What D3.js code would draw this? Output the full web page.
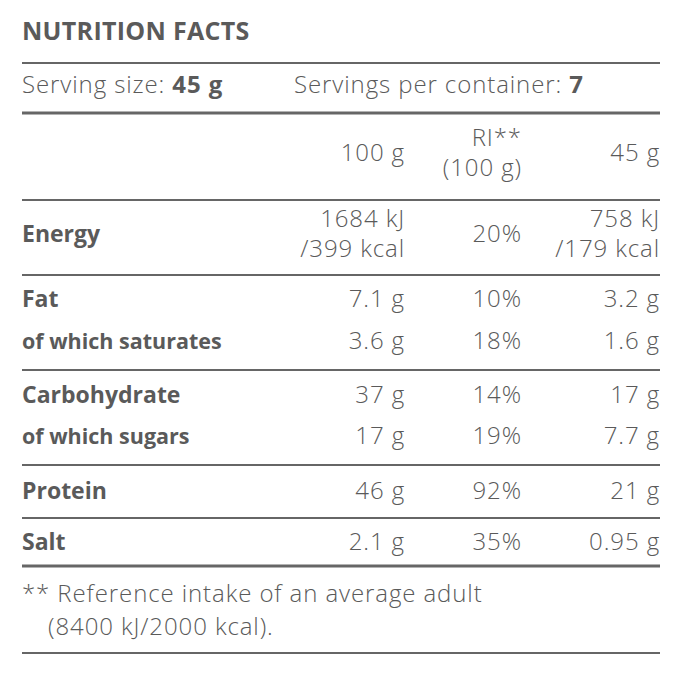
<!DOCTYPE html>
<html><head><meta charset="utf-8">
<script src="https://cdn.jsdelivr.net/npm/d3@7"></script>
<style>body{margin:0;background:#fff}</style>
</head><body><svg id="c" width="680" height="676"></svg>
<script>
// nutrition data
const labels = ["Energy", "Fat", "of which saturates", "Carbohydrate", "of which sugars", "Protein", "Salt"];
const per100 = [["1684 kJ", "/399 kcal"], ["7.1 g"], ["3.6 g"], ["37 g"], ["17 g"], ["46 g"], ["2.1 g"]];
const riPct = [["20%"], ["10%"], ["18%"], ["14%"], ["19%"], ["92%"], ["35%"]];
const perServing = [["758 kJ", "/179 kcal"], ["3.2 g"], ["1.6 g"], ["17 g"], ["7.7 g"], ["21 g"], ["0.95 g"]];
const headers = [["100 g"], ["RI**", "(100 g)"], ["45 g"]];
const rowY = [236, 301, 343, 397, 438, 493, 544];
const rules = [[63, 2], [113, 3], [200, 2], [275, 2], [370, 2], [465, 2], [518, 2], [566, 3], [653, 2]];

const svg = d3.select("#c");
const col = "#5a5a5a";
const font = "'Open Sans', Lato, sans-serif";
const colX = [405, 522, 660];

// horizontal rules
svg.selectAll("line").data(rules).join("line")
  .attr("x1", 22).attr("x2", 660)
  .attr("y1", d => d[0]).attr("y2", d => d[0])
  .attr("stroke", "#666").attr("stroke-width", d => d[1]);

function txt(x, y, s, o = {}) {
  return svg.append("text").attr("x", x).attr("y", y).text(s)
    .attr("fill", col).attr("font-family", font)
    .attr("font-size", o.size || 24).attr("font-weight", o.w || 300)
    .attr("letter-spacing", o.ls != null ? o.ls : 0.9)
    .attr("text-anchor", o.a || "start").attr("dominant-baseline", "middle");
}

txt(22, 33, "NUTRITION FACTS", {size: 25, w: 700, ls: 0.3});
const ss = txt(22, 87, "Serving size: ", {});
ss.append("tspan").attr("font-weight", 700).text("45 g");
const sp = txt(294, 87, "Servings per container: ", {});
sp.append("tspan").attr("font-weight", 700).text("7");

// multi-line cell, centred on y
function cell(x, y, lines, o) {
  lines.forEach((s, i) => txt(x, y + (i - (lines.length - 1) / 2) * 30, s, o));
}
headers.forEach((h, j) => cell(colX[j], 155, h, {a: "end"}));

labels.forEach((l, i) => {
  txt(22, rowY[i], l, {w: 700, size: (i === 2 || i === 4) ? 21.5 : 23, ls: 0});
  cell(colX[0], rowY[i], per100[i], {a: "end"});
  cell(colX[1], rowY[i], riPct[i], {a: "end"});
  cell(colX[2], rowY[i], perServing[i], {a: "end"});
});

txt(22, 596, "** Reference intake of an average adult", {});
txt(48, 629, "(8400 kJ/2000 kcal).", {});
</script></body></html>
